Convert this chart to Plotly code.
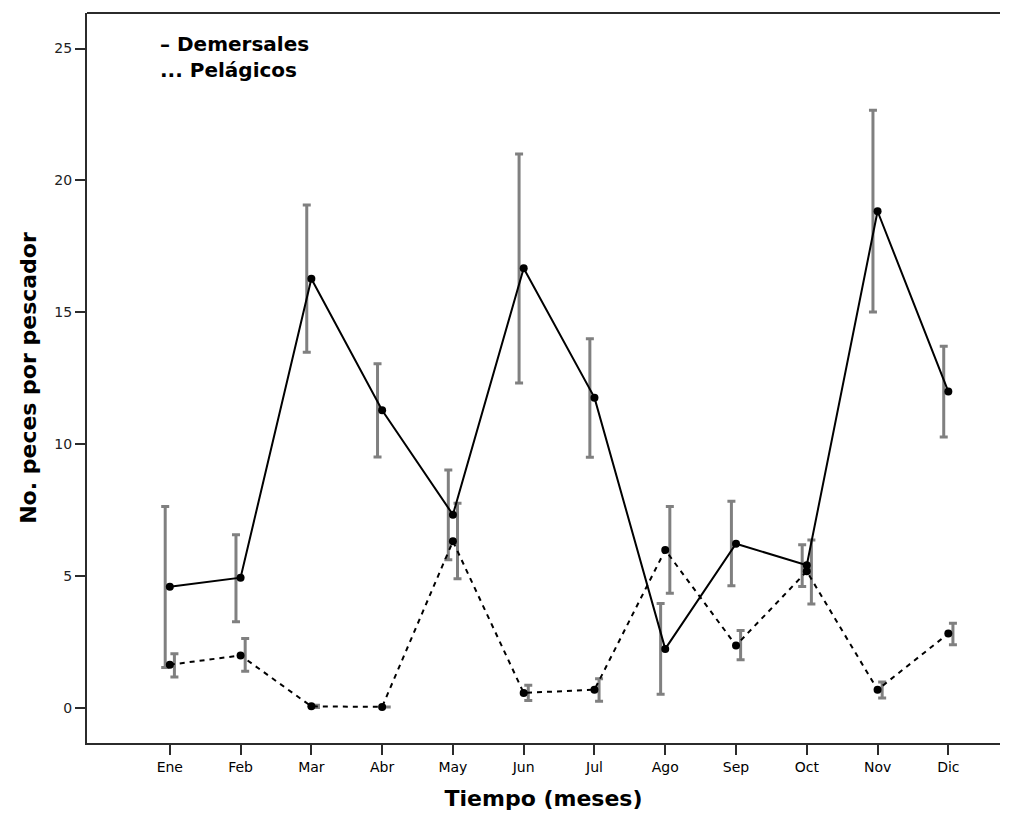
import plotly.graph_objects as go

months = ["Ene", "Feb", "Mar", "Abr", "May", "Jun", "Jul", "Ago", "Sep", "Oct", "Nov", "Dic"]

dem_mean = [4.59, 4.93, 16.27, 11.28, 7.32, 16.67, 11.76, 2.23, 6.22, 5.40, 18.83, 11.99]
dem_upper = [7.63, 6.56, 19.07, 13.05, 9.02, 21.00, 13.99, 3.95, 7.83, 6.18, 22.66, 13.71]
dem_lower = [1.52, 3.26, 13.48, 9.51, 5.61, 12.32, 9.50, 0.51, 4.62, 4.60, 15.01, 10.27]

pel_mean = [1.63, 1.98, 0.05, 0.03, 6.31, 0.56, 0.68, 5.98, 2.36, 5.17, 0.68, 2.81]
pel_upper = [2.05, 2.62, 0.09, 0.03, 7.75, 0.85, 1.10, 7.63, 2.93, 6.36, 0.97, 3.20]
pel_lower = [1.16, 1.38, 0.01, 0.03, 4.89, 0.27, 0.24, 4.34, 1.82, 3.93, 0.37, 2.39]

y_ticks = [0, 5, 10, 15, 20, 25]

x_pos = list(range(len(months)))
DODGE = 0.065
BAR_COLOR = "#808080"
AXIS_COLOR = "#2b2b2b"
FONT = "DejaVu Sans"

fig = go.Figure()

def err_trace(means, upper, lower, shift):
    return go.Scatter(
        x=[p + shift for p in x_pos],
        y=means,
        mode="markers",
        marker=dict(size=1, color="rgba(0,0,0,0)"),
        error_y=dict(
            type="data",
            symmetric=False,
            array=[u - m for u, m in zip(upper, means)],
            arrayminus=[m - l for m, l in zip(means, lower)],
            color=BAR_COLOR,
            thickness=3,
            width=4,
        ),
        showlegend=False,
        hoverinfo="skip",
    )

fig.add_trace(err_trace(dem_mean, dem_upper, dem_lower, -DODGE))
fig.add_trace(err_trace(pel_mean, pel_upper, pel_lower, DODGE))

fig.add_trace(go.Scatter(
    x=x_pos, y=pel_mean, mode="lines+markers", name="Pelágicos",
    line=dict(color="black", width=2, dash="5px,5px"),
    marker=dict(color="black", size=8),
    showlegend=False,
))
fig.add_trace(go.Scatter(
    x=x_pos, y=dem_mean, mode="lines+markers", name="Demersales",
    line=dict(color="black", width=2),
    marker=dict(color="black", size=8),
    showlegend=False,
))

# top frame line
fig.add_shape(type="line", xref="paper", yref="paper", x0=0, x1=1, y0=1, y1=1,
              line=dict(color=AXIS_COLOR, width=2))

legend_font = dict(family=FONT, size=20, color="black", weight="bold")
fig.add_annotation(text="– Demersales", xref="paper", yref="paper",
                   x=(158 - 87) / 913, y=(743 - 44) / 730, xanchor="left", yanchor="middle",
                   showarrow=False, font=legend_font)
fig.add_annotation(text="... Pelágicos", xref="paper", yref="paper",
                   x=(158 - 87) / 913, y=(743 - 70) / 730, xanchor="left", yanchor="middle",
                   showarrow=False, font=legend_font)

fig.update_xaxes(
    range=[-1.17, 11.73], automargin=False,
    tickmode="array", tickvals=x_pos, ticktext=months,
    showline=True, linecolor=AXIS_COLOR, linewidth=2, mirror=False,
    ticks="outside", ticklen=10, tickwidth=1.5, tickcolor=AXIS_COLOR,
    showgrid=False, zeroline=False,
    tickfont=dict(family=FONT, size=14, color="black"),
    title=dict(text="<b>Tiempo (meses)</b>", standoff=21,
               font=dict(family=FONT, size=22, color="black")),
)
fig.update_yaxes(
    range=[-1.34, 26.35], automargin=False,
    tickmode="array", tickvals=y_ticks,
    showline=True, linecolor=AXIS_COLOR, linewidth=2, mirror=False,
    ticks="outside", ticklen=10, tickwidth=1.5, tickcolor=AXIS_COLOR,
    showgrid=False, zeroline=False,
    tickfont=dict(family=FONT, size=14, color="#222"),
    title=dict(text="<b>No. peces por pescador</b>", standoff=12,
               font=dict(family=FONT, size=22, color="black")),
)

# the page body has an 8px margin, so the figure is sized to fit the window
fig.update_layout(
    width=1000, height=803,
    margin=dict(l=79, r=8, t=5, b=68),
    paper_bgcolor="white", plot_bgcolor="white",
)

fig.write_html("out.html")
